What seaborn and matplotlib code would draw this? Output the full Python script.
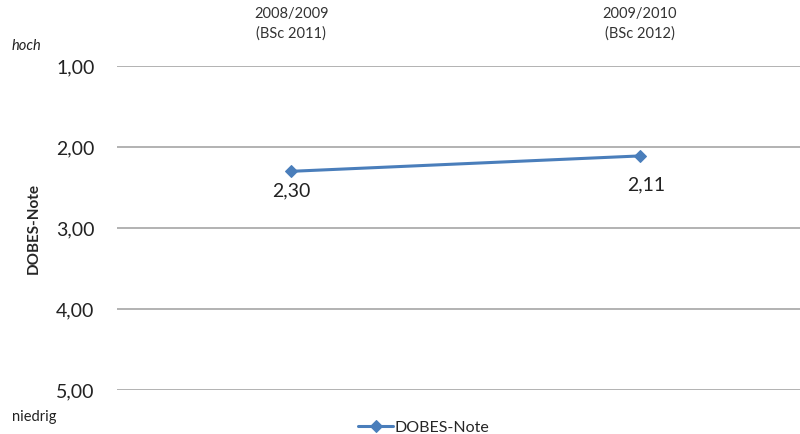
import matplotlib.pyplot as plt
import matplotlib.ticker as mticker
import seaborn as sns
import pandas as pd

# data
jahrgaenge = ['2008/2009\n(BSc 2011)', '2009/2010\n(BSc 2012)']
dobes_note = [2.30, 2.11]
y_ticks = [1, 2, 3, 4, 5]

line_color = '#4a7ebb'

sns.set_theme(style="white")
plt.rcParams['font.family'] = ['Lato', 'DejaVu Sans']

df = pd.DataFrame({'Jahrgang': jahrgaenge, 'DOBES-Note': dobes_note})

fig = plt.figure(figsize=(8, 4.34), dpi=100)
ax = fig.add_axes([0.146, 0.101, 0.854, 0.747])

sns.lineplot(data=df, x='Jahrgang', y='DOBES-Note', ax=ax, color=line_color,
             linewidth=2.2, marker='D', markersize=7, markeredgecolor=line_color,
             label='DOBES-Note', legend=False)

ax.set_ylim(5, 1)
ax.set_xlim(-0.5, 1.46)
ax.set_yticks(y_ticks)
ax.yaxis.set_major_formatter(mticker.FuncFormatter(lambda v, p: f"{v:.2f}".replace('.', ',')))
ax.grid(axis='y', color='#a6a6a6', linewidth=1.2)
ax.grid(axis='x', visible=False)
for s in ax.spines.values():
    s.set_visible(False)

ax.xaxis.tick_top()
ax.tick_params(axis='x', length=0, labelsize=10.5, pad=18, colors='#333333')
for t in ax.get_xticklabels():
    t.set_linespacing(1.5)
ax.tick_params(axis='y', length=0, labelsize=14, pad=16, colors='#222222')
ax.set_xlabel('')
ax.set_ylabel('DOBES-Note', fontsize=11, fontweight='bold')
ax.yaxis.set_label_coords(-0.112, 0.5)

# data labels (2,11 sits a bit lower in the original)
label_offsets = [(0, -14), (5, -21)]
for i, v in enumerate(dobes_note):
    ax.annotate(f"{v:.2f}".replace('.', ','), (i, v), xytext=label_offsets[i],
                textcoords='offset points', ha='center', va='center', fontsize=14,
                color='#222222')

fig.text(0.015, 0.893, 'hoch', fontsize=10.5, style='italic', color='#222222', va='center')
fig.text(0.015, 0.039, 'niedrig', fontsize=10.5, color='#222222', va='center')

handles, labels = ax.get_legend_handles_labels()
for h in handles:
    h.set_markersize(6)
fig.legend(handles, labels, loc='center', bbox_to_anchor=(0.53, 0.015), frameon=False,
           fontsize=11.5, handlelength=2.2, handletextpad=0.1)

fig.savefig('out.png', dpi=100)
